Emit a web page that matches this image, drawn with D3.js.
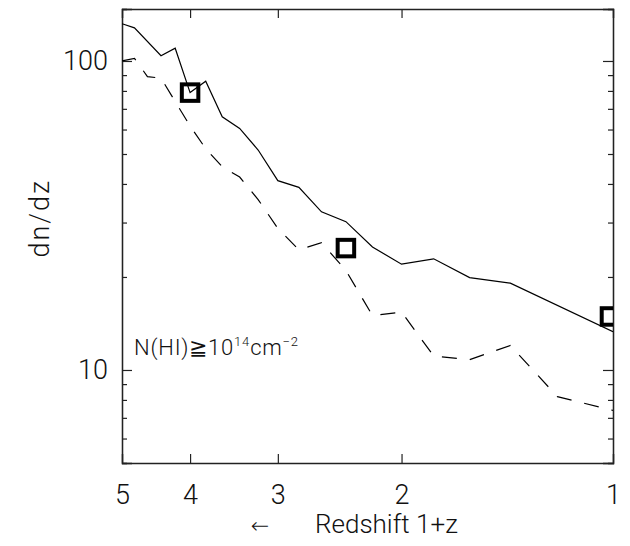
<!DOCTYPE html>
<html>
<head>
<meta charset="utf-8">
<script src="https://cdn.jsdelivr.net/npm/d3@7"></script>
<style>
  body { margin: 0; background: #fff; }
  text { font-family: Roboto, "DejaVu Sans", sans-serif; font-weight: 300; fill: #111; }
</style>
</head>
<body>
<div id="chart"></div>
<script>
// solid curve: 1+z bins and dn/dz
var zSolid  = [5.0, 4.8, 4.4, 4.2, 4.0, 3.8, 3.6, 3.4, 3.2, 3.0, 2.8, 2.6, 2.4, 2.2, 2.0, 1.8, 1.6, 1.4, 1.0];
var dnSolid = [132, 128, 104, 110, 79, 86, 66, 60.5, 51.5, 41, 39, 32.5, 30.2, 25, 22, 22.9, 19.9, 19.1, 13.3];
// dashed curve
var zDash  = [5.0, 4.8, 4.6, 4.4, 4.0, 3.8, 3.6, 3.4, 3.2, 3.0, 2.8, 2.6, 2.4, 2.2, 2.0, 1.8, 1.6, 1.4, 1.2, 1.0];
var dnDash = [100, 102, 89, 88, 61.6, 52, 45.5, 42.1, 35.6, 28.7, 24.5, 25.8, 21, 15, 15.4, 11.1, 10.8, 12, 8.2, 7.4];
// square markers
var zSquare  = [4.0, 2.4, 1.01];
var dnSquare = [79, 24.8, 14.9];
// ticks
var xTicks = [5, 4, 3, 2, 1];
var yMajor = [10, 100];
var yMinor = [6, 7, 8, 9, 20, 30, 40, 50, 60, 70, 80, 90];

var svgWidth = 630, svgHeight = 546;
var margin = {top: 9, right: 17, bottom: 83, left: 122};
var chartWidth = svgWidth - margin.left - margin.right;
var chartHeight = svgHeight - margin.top - margin.bottom;

var svg = d3.select("#chart").append("svg")
  .attr("width", svgWidth)
  .attr("height", svgHeight);

var chartGroup = svg.append("g")
  .attr("transform", `translate(${margin.left}, ${margin.top})`);

// reversed log scale on x, log scale on y
var xScale = d3.scaleLog().domain([5, 1]).range([0, chartWidth]);
var yScale = d3.scaleLog().domain([5, 147.3]).range([chartHeight, 0]);

svg.append("clipPath").attr("id", "clip")
  .append("rect").attr("width", chartWidth).attr("height", chartHeight);

// axes: ticks inside on all four sides
var majorLen = 10, minorLen = 5;
chartGroup.append("g")
  .attr("transform", `translate(0, ${chartHeight})`)
  .call(d3.axisBottom(xScale).tickValues(xTicks).tickSize(-9).tickPadding(22).tickFormat(d3.format("d")));
chartGroup.append("g")
  .call(d3.axisTop(xScale).tickValues(xTicks).tickSize(-9).tickFormat(""));
chartGroup.append("g")
  .call(d3.axisLeft(yScale).tickValues(yMajor).tickSize(-majorLen).tickPadding(14).tickFormat(d3.format("d")));
chartGroup.append("g")
  .call(d3.axisLeft(yScale).tickValues(yMinor).tickSize(-minorLen).tickFormat(""));
chartGroup.append("g")
  .attr("transform", `translate(${chartWidth}, 0)`)
  .call(d3.axisRight(yScale).tickValues(yMajor).tickSize(-majorLen).tickFormat(""));
chartGroup.append("g")
  .attr("transform", `translate(${chartWidth}, 0)`)
  .call(d3.axisRight(yScale).tickValues(yMinor).tickSize(-minorLen).tickFormat(""));

chartGroup.selectAll(".domain").attr("stroke", "#222").attr("stroke-width", 1.3);
chartGroup.selectAll(".tick line").attr("stroke", "#222").attr("stroke-width", 1.2);
chartGroup.selectAll(".tick text").attr("font-size", 27).attr("fill", "#222");

// curves
var line = d3.line()
  .x(d => xScale(d[0]))
  .y(d => yScale(d[1]));

chartGroup.append("path")
  .datum(d3.zip(zSolid, dnSolid))
  .attr("clip-path", "url(#clip)")
  .attr("fill", "none")
  .attr("stroke", "#000")
  .attr("stroke-width", 1.2)
  .attr("d", line);

chartGroup.append("path")
  .datum(d3.zip(zDash, dnDash))
  .attr("clip-path", "url(#clip)")
  .attr("fill", "none")
  .attr("stroke", "#000")
  .attr("stroke-width", 1.2)
  .attr("stroke-dasharray", "15,13")
  .attr("d", line);

// open squares
var sq = 16.5;
chartGroup.append("g").attr("clip-path", "url(#clip)")
  .selectAll("rect")
  .data(d3.zip(zSquare, dnSquare))
  .enter().append("rect")
  .attr("x", d => xScale(d[0]) - sq / 2)
  .attr("y", d => yScale(d[1]) - sq / 2)
  .attr("width", sq)
  .attr("height", sq)
  .attr("fill", "none")
  .attr("stroke", "#000")
  .attr("stroke-width", 4);

// annotation
var note = chartGroup.append("text")
  .attr("x", 12)
  .attr("y", yScale(10) - 15)
  .attr("font-size", 22)
  .attr("letter-spacing", 0.8);
note.append("tspan").text("N(HI)≧10");
note.append("tspan").attr("font-size", 13).attr("dy", -9).text("14");
note.append("tspan").attr("dy", 9).text("cm");
note.append("tspan").attr("font-size", 13).attr("dy", -9).text("−2");

// axis titles
svg.append("text")
  .attr("transform", `translate(49, ${margin.top + yScale(31)}) rotate(-90)`)
  .attr("text-anchor", "middle")
  .attr("font-size", 27)
  .attr("letter-spacing", 2)
  .text("dn/dz");

svg.append("text")
  .attr("x", 260)
  .attr("y", 533)
  .attr("text-anchor", "middle")
  .attr("font-size", 22)
  .text("←");
svg.append("text")
  .attr("x", 315)
  .attr("y", 533)
  .attr("font-size", 26)
  .text("Redshift 1+z");
</script>
</body>
</html>
